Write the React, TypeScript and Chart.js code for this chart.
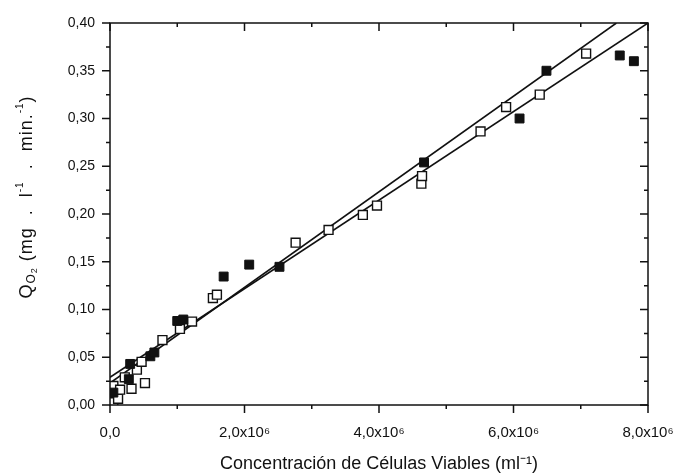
import React, { useEffect, useRef } from 'react';
import { Chart, registerables } from 'chart.js';

Chart.register(...registerables);

// Filled squares (series 1)
const filledX = [0.05e6, 0.28e6, 0.30e6, 0.60e6, 0.66e6, 1.0e6, 1.09e6, 1.69e6, 2.07e6, 2.52e6, 4.67e6, 6.09e6, 6.49e6, 7.58e6, 7.79e6];
const filledY = [0.013, 0.027, 0.043, 0.051, 0.055, 0.088, 0.0895, 0.1345, 0.147, 0.1447, 0.254, 0.300, 0.350, 0.366, 0.360];

// Open squares (series 2)
const openX = [0.05e6, 0.05e6, 0.12e6, 0.15e6, 0.22e6, 0.32e6, 0.40e6, 0.47e6, 0.52e6, 0.78e6, 1.04e6, 1.22e6, 1.53e6, 1.59e6, 2.76e6, 3.25e6, 3.76e6, 3.97e6, 4.63e6, 4.64e6, 5.51e6, 5.89e6, 6.39e6, 7.08e6];
const openY = [0.003, 0.020, 0.0065, 0.016, 0.029, 0.017, 0.037, 0.0452, 0.023, 0.068, 0.0797, 0.0874, 0.112, 0.1155, 0.170, 0.1833, 0.199, 0.2088, 0.2318, 0.2397, 0.2865, 0.312, 0.325, 0.368];

// Fitted lines (end points)
const lineAX = [0, 7.53e6];
const lineAY = [0.023, 0.40];
const lineBX = [0, 8.0e6];
const lineBY = [0.029, 0.40];

// Axis ticks
const yMajor = [0, 0.05, 0.10, 0.15, 0.20, 0.25, 0.30, 0.35, 0.40];
const yMinor = [0.025, 0.075, 0.125, 0.175, 0.225, 0.275, 0.325, 0.375];
const xMajor = [0, 2e6, 4e6, 6e6, 8e6];
const xMinor = [1e6, 3e6, 5e6, 7e6];

const xTitle = 'Concentración de Células Viables (ml⁻¹)';
const yTitleParts: { t: string; size: number; dy: number }[] = [
  { t: 'Q', size: 18, dy: 0 },
  { t: 'O', size: 12, dy: 5 },
  { t: '2', size: 9, dy: 8 },
  { t: ' (mg  .  l', size: 18, dy: 0 },
  { t: '-1', size: 10, dy: -7 },
  { t: '  .  min.', size: 18, dy: 0 },
  { t: '-1', size: 10, dy: -7 },
  { t: ')', size: 18, dy: 0 },
];

const FONT = '"Liberation Sans", Arial, Helvetica, sans-serif';

const toPts = (xs: number[], ys: number[]) => xs.map((x, i) => ({ x, y: ys[i] }));

const framePlugin = {
  id: 'frameTicks',
  afterDraw(chart: any) {
    const { ctx, chartArea: a } = chart;
    const x = chart.scales.x;
    const y = chart.scales.y;
    ctx.save();
    ctx.strokeStyle = '#111';
    ctx.lineWidth = 1.5;
    ctx.strokeRect(a.left, a.top, a.right - a.left, a.bottom - a.top);
    ctx.beginPath();
    const ML = 8, mL = 4;
    for (const v of yMajor) {
      const p = y.getPixelForValue(v);
      ctx.moveTo(a.left - ML, p); ctx.lineTo(a.left, p);
      ctx.moveTo(a.right - ML, p); ctx.lineTo(a.right, p);
    }
    for (const v of yMinor) {
      const p = y.getPixelForValue(v);
      ctx.moveTo(a.left - mL, p); ctx.lineTo(a.left, p);
      ctx.moveTo(a.right - mL, p); ctx.lineTo(a.right, p);
    }
    for (const v of xMajor) {
      const p = x.getPixelForValue(v);
      ctx.moveTo(p, a.bottom); ctx.lineTo(p, a.bottom + ML);
      ctx.moveTo(p, a.top); ctx.lineTo(p, a.top + ML);
    }
    for (const v of xMinor) {
      const p = x.getPixelForValue(v);
      ctx.moveTo(p, a.bottom); ctx.lineTo(p, a.bottom + mL);
      ctx.moveTo(p, a.top); ctx.lineTo(p, a.top + mL);
    }
    ctx.stroke();

    // y axis title with sub/superscripts
    try { (ctx as any).letterSpacing = '1px'; } catch (e) { /* ignore */ }
    let total = 0;
    for (const part of yTitleParts) {
      ctx.font = `${part.size}px ${FONT}`;
      total += ctx.measureText(part.t).width;
    }
    ctx.translate(27, 197);
    ctx.rotate(-Math.PI / 2);
    ctx.fillStyle = '#111';
    ctx.textBaseline = 'middle';
    ctx.textAlign = 'left';
    let cx = -total / 2;
    for (const part of yTitleParts) {
      ctx.font = `${part.size}px ${FONT}`;
      ctx.fillText(part.t, cx, part.dy);
      cx += ctx.measureText(part.t).width;
    }
    ctx.restore();
  },
};

export default function App() {
  const ref = useRef<HTMLCanvasElement | null>(null);
  useEffect(() => {
    if (!ref.current) return;
    const chart = new Chart(ref.current, {
      type: 'scatter',
      data: {
        datasets: [
          {
            type: 'line',
            label: 'Ajuste 1',
            data: toPts(lineAX, lineAY),
            borderColor: '#111',
            borderWidth: 1.6,
            pointRadius: 0,
            fill: false,
            order: 3,
          } as any,
          {
            type: 'line',
            label: 'Ajuste 2',
            data: toPts(lineBX, lineBY),
            borderColor: '#111',
            borderWidth: 1.6,
            pointRadius: 0,
            fill: false,
            order: 3,
          } as any,
          {
            label: 'Serie abierta',
            data: toPts(openX, openY),
            pointStyle: 'rect',
            pointRadius: 6.3,
            backgroundColor: '#fff',
            borderColor: '#111',
            borderWidth: 1.4,
            order: 2,
          },
          {
            label: 'Serie llena',
            data: toPts(filledX, filledY),
            pointStyle: 'rect',
            pointRadius: 6.3,
            backgroundColor: '#111',
            borderColor: '#111',
            borderWidth: 1,
            order: 1,
          },
        ],
      },
      options: {
        responsive: false,
        animation: false,
        layout: { padding: { left: 0, right: 26, top: 23, bottom: 0 } },
        plugins: { legend: { display: false }, tooltip: { enabled: false } },
        scales: {
          x: {
            type: 'linear',
            min: 0,
            max: 8e6,
            grid: { display: false, drawTicks: false },
            border: { display: false },
            ticks: {
              stepSize: 2e6,
              padding: 19,
              color: '#111',
              font: { family: FONT, size: 15 },
              maxRotation: 0,
              callback: (v: any) =>
                v === 0 ? '0,0' : `${(Number(v) / 1e6).toFixed(1).replace('.', ',')}x10⁶`,
            },
            title: {
              display: true,
              text: xTitle,
              color: '#111',
              font: { family: FONT, size: 18 },
              padding: { top: 0, bottom: 1 },
            },
            afterFit: (s: any) => {
              s.height = 71;
              s.paddingLeft = 0;
              s.paddingRight = 0;
            },
          },
          y: {
            type: 'linear',
            min: 0,
            max: 0.4,
            grid: { display: false, drawTicks: false },
            border: { display: false },
            ticks: {
              stepSize: 0.05,
              padding: 15,
              color: '#111',
              font: { family: FONT, size: 14 },
              callback: (v: any) => Number(v).toFixed(2).replace('.', ','),
            },
            afterFit: (s: any) => {
              s.width = 110;
              s.paddingTop = 0;
              s.paddingBottom = 0;
            },
          },
        },
      },
      plugins: [framePlugin],
    });
    return () => chart.destroy();
  }, []);
  return (
    <div style={{ position: 'fixed', left: 0, top: 0, width: 674, height: 476, background: '#fff' }}>
      <canvas ref={ref} width={674} height={476} />
    </div>
  );
}
